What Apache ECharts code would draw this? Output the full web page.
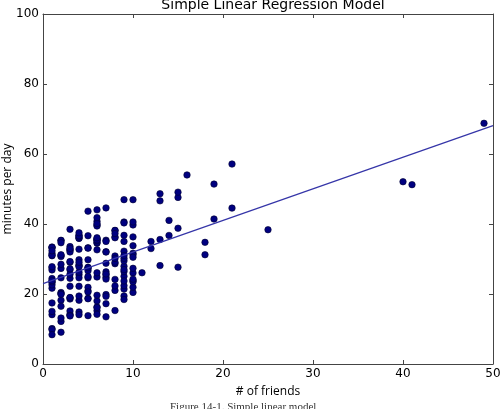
<!DOCTYPE html>
<html>
<head>
<meta charset="utf-8">
<script src="https://cdn.jsdelivr.net/npm/echarts@6/dist/echarts.min.js"></script>
<style>html,body{margin:0;padding:0;background:#fff;}#c{width:500px;height:409px;}</style>
</head>
<body>
<div id="c"></div>
<script>
var numFriends = [49,41,40,25,21,21,19,19,18,18,16,15,15,15,15,14,14,13,13,13,13,12,12,11,10,10,10,10,10,10,10,10,10,10,10,10,10,10,10,9,9,9,9,9,9,9,9,9,9,9,9,9,9,9,9,9,9,8,8,8,8,8,8,8,8,8,8,8,8,8,7,7,7,7,7,7,7,7,7,7,7,7,7,7,7,6,6,6,6,6,6,6,6,6,6,6,6,6,6,6,6,6,6,6,6,6,6,5,5,5,5,5,5,5,5,5,5,5,5,5,5,5,5,5,4,4,4,4,4,4,4,4,4,4,4,4,4,4,4,4,4,4,4,4,3,3,3,3,3,3,3,3,3,3,3,3,3,3,3,3,3,3,3,3,2,2,2,2,2,2,2,2,2,2,2,2,2,2,2,2,2,1,1,1,1,1,1,1,1,1,1,1,1,1,1,1,1,1,1,1,1,1,1];
var dailyMinutes = [68.77,51.25,52.08,38.36,44.54,57.13,51.4,41.42,31.22,34.76,54.01,38.79,47.59,49.1,27.66,41.03,36.73,48.65,28.12,46.62,35.57,32.98,35,26.07,23.77,39.73,40.57,31.65,31.21,36.32,20.45,21.93,26.02,27.34,23.49,46.94,30.5,33.8,24.23,21.4,27.94,32.24,40.57,25.07,19.42,22.39,18.42,46.96,23.72,26.41,26.97,36.76,40.32,35.02,29.47,30.2,31,38.11,38.18,36.31,21.03,30.86,36.07,28.66,29.08,37.28,15.28,24.17,22.31,30.17,25.53,19.85,35.37,44.6,17.23,13.47,26.33,35.02,32.09,24.81,19.33,28.77,24.26,31.98,25.73,24.86,16.28,34.51,15.23,39.72,40.8,26.06,35.76,34.76,16.13,44.04,18.03,19.65,32.62,35.59,39.43,14.18,35.24,40.13,41.82,35.45,36.07,43.67,24.61,20.9,21.9,18.79,27.61,27.21,26.61,29.77,20.59,27.53,13.82,33.2,25,33.1,36.65,18.63,14.87,22.2,36.81,25.53,24.62,26.25,18.21,28.08,19.42,29.79,32.8,35.99,28.32,27.79,35.88,29.06,36.28,14.1,36.63,37.49,26.9,18.58,38.48,24.48,18.95,33.55,14.24,29.04,32.51,25.63,22.22,19,32.73,15.16,13.9,27.2,32.01,29.27,33,13.74,20.42,27.32,18.23,35.35,28.48,9.08,24.62,20.12,35.26,19.92,31.02,16.49,12.16,30.7,31.22,34.65,13.13,27.51,33.2,31.57,14.1,33.42,17.44,10.12,24.42,9.82,23.39,30.93,15.03,21.67,31.09,33.29,22.61,26.89,23.48,8.38,27.81,32.35,23.84];
var lineX = [0, 50];
var lineY = [22.95, 68.1];
var xTicks = [0, 10, 20, 30, 40, 50];
var yTicks = [0, 20, 40, 60, 80, 100];

var pts = numFriends.map(function (f, i) { return [f, dailyMinutes[i]]; });
var linePts = lineX.map(function (x, i) { return [x, lineY[i]]; });

var tickFont = {fontFamily: 'DejaVu Sans', fontSize: 12, color: '#000'};
var frameLine = {show: true, onZero: false, lineStyle: {color: '#444', width: 1}};
var tick = {show: true, inside: true, length: 4, lineStyle: {color: '#444', width: 1}};

var chart = echarts.init(document.getElementById('c'), null, {renderer: 'canvas'});
chart.setOption({
  animation: false,
  title: {
    text: 'Simple Linear Regression Model',
    left: 268, textAlign: 'center', top: -7,
    textStyle: {fontFamily: 'DejaVu Sans', fontSize: 14, fontWeight: 'normal', color: '#000'}
  },
  grid: {left: 43, right: 7, top: 14, bottom: 45, containLabel: false, outerBoundsMode: 'none'},
  xAxis: [{
    type: 'value', min: xTicks[0], max: xTicks[xTicks.length - 1], interval: 10,
    position: 'bottom',
    name: '# of friends', nameLocation: 'middle', nameGap: 22,
    nameTextStyle: {fontFamily: 'Open Sans', fontSize: 12, color: '#000'},
    axisLine: frameLine, axisTick: tick,
    axisLabel: Object.assign({margin: 4}, tickFont),
    splitLine: {show: false}
  }, {
    type: 'value', min: xTicks[0], max: xTicks[xTicks.length - 1], interval: 10,
    position: 'top',
    axisLine: frameLine, axisTick: tick, axisLabel: {show: false}, splitLine: {show: false}
  }],
  yAxis: [{
    type: 'value', min: yTicks[0], max: yTicks[yTicks.length - 1], interval: 20,
    position: 'left',
    axisLine: frameLine, axisTick: tick,
    axisLabel: Object.assign({margin: 4}, tickFont),
    splitLine: {show: false}
  }, {
    type: 'value', min: yTicks[0], max: yTicks[yTicks.length - 1], interval: 20,
    position: 'right',
    axisLine: frameLine, axisTick: tick, axisLabel: {show: false}, splitLine: {show: false}
  }],
  graphic: [{
    type: 'text', x: 8, y: 189, rotation: Math.PI / 2,
    style: {text: 'minutes per day', font: '12px "Open Sans"', fill: '#000', align: 'center', verticalAlign: 'middle'}
  }, {
    type: 'text', left: 170, top: 402,
    style: {text: 'Figure 14-1. Simple linear model', font: '11px "Liberation Serif"', fill: '#333'}
  }],
  series: [{
    type: 'scatter', data: pts, symbol: 'circle', symbolSize: 6.5,
    itemStyle: {color: '#000080', borderColor: '#000030', borderWidth: 0.6, opacity: 1},
    z: 2
  }, {
    type: 'line', data: linePts, showSymbol: false, symbol: 'none',
    lineStyle: {color: '#3535a8', width: 1.2},
    z: 3
  }]
});
</script>
</body>
</html>
